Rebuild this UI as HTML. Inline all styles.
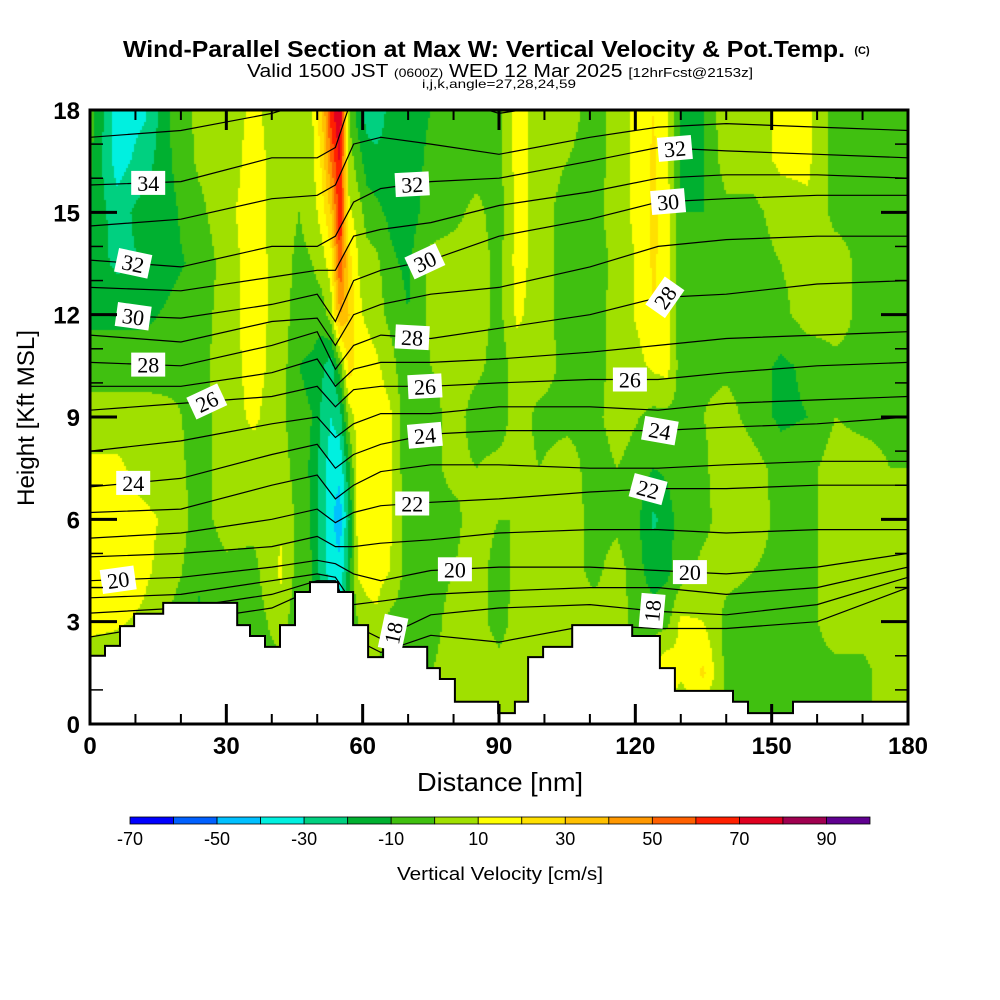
<!DOCTYPE html>
<html><head><meta charset="utf-8">
<style>
html,body{margin:0;padding:0;background:#fff;}
#wrap{position:relative;width:1000px;height:1000px;overflow:hidden;font-family:"Liberation Sans",sans-serif;}
#heat{position:absolute;left:0;top:0;}
#ov{position:absolute;left:0;top:0;}
</style></head>
<body>
<div id="wrap">
<canvas id="heat" width="1000" height="1000"></canvas>
<svg id="ov" width="1000" height="1000" xmlns="http://www.w3.org/2000/svg">
<text x="484" y="57" text-anchor="middle" font-family="Liberation Sans" font-weight="bold" font-size="23" textLength="722" lengthAdjust="spacingAndGlyphs">Wind-Parallel Section at Max W: Vertical Velocity &amp; Pot.Temp.</text>
<text x="862" y="54" text-anchor="middle" font-family="Liberation Sans" font-weight="bold" font-size="11">(C)</text>
<text x="500" y="77" text-anchor="middle" font-family="Liberation Sans" font-size="18" textLength="506" lengthAdjust="spacingAndGlyphs">Valid 1500 JST <tspan font-size="12">(0600Z)</tspan> WED 12 Mar 2025 <tspan font-size="13">[12hrFcst@2153z]</tspan></text>
<text x="499" y="88" text-anchor="middle" font-family="Liberation Sans" font-size="12" textLength="154" lengthAdjust="spacingAndGlyphs">i,j,k,angle=27,28,24,59</text>
<g id="contours"></g>
<g id="terrain"></g>
<g id="labels"></g>
<g id="axes"></g>
<text x="500" y="791" text-anchor="middle" font-family="Liberation Sans" font-size="26" textLength="166" lengthAdjust="spacingAndGlyphs">Distance [nm]</text>
<text transform="translate(34,418) rotate(-90)" text-anchor="middle" font-family="Liberation Sans" font-size="24" textLength="176" lengthAdjust="spacingAndGlyphs">Height [Kft MSL]</text>
<g id="cbar"></g>
<text x="500" y="880" text-anchor="middle" font-family="Liberation Sans" font-size="18" textLength="206" lengthAdjust="spacingAndGlyphs">Vertical Velocity [cm/s]</text>
</svg>
</div>
<script>
// ---------- data ----------
const gridX = [0,6,12,18,24,30,36,42,46,49,51,53,55,57,59,61,63,66,70,75,80,85,90,94,99,105,111,116,121,124,127,130,135,140,146,152,158,164,170,176,180];
const gridLevelStep = 1.5; // kft between rows, rows 0..18
const wColumns = [
[5,5,12,12,12,12,5,-5,-12,-15,-12,-8,-5],
[5,5,11,20,14,12,5,-5,-12,-22,-25,-35,-35],
[5,5,8,12,12,6,5,-5,-12,-20,-15,-25,-32],
[5,0,-3,5,8,5,3,-5,-8,-12,-12,-10,-8],
[0,-3,-12,-8,-5,-5,-5,-3,-5,-8,-3,2,3],
[0,-3,-5,-3,5,5,5,5,5,5,8,5,5],
[0,-5,-5,-3,3,5,12,14,15,15,14,14,12],
[0,-3,5,12,8,5,3,5,5,5,5,5,5],
[0,-3,-8,-5,-3,-5,-8,-10,-5,-3,0,3,5],
[0,-5,-8,-10,-12,-12,-10,-12,-5,0,5,8,10],
[0,0,-15,-25,-25,-25,-22,-18,-5,5,15,22,28],
[0,0,-25,-35,-38,-35,-30,-25,5,15,30,50,65],
[0,0,-30,-38,-45,-38,-25,-5,40,60,70,72,82],
[0,0,-10,-15,-20,-12,5,25,30,25,12,5,0],
[0,0,0,12,15,15,15,15,12,10,5,-5,-15],
[0,0,5,15,15,15,15,15,8,5,-5,-15,-25],
[0,-3,8,15,12,12,15,12,5,3,-8,-15,-30],
[0,-3,-3,10,12,12,12,5,-3,-8,-12,-15,-15],
[0,-3,-5,-5,-5,-8,-8,-10,-10,-12,-15,-20,-20],
[0,0,-5,-5,-3,-3,-5,0,3,3,-5,-5,-10],
[3,5,5,0,-3,3,5,5,5,5,-3,-5,-5],
[5,5,3,5,5,0,-5,3,5,5,3,-5,-8],
[5,3,-3,-5,0,3,-5,-5,-3,-3,-5,-3,-3],
[0,3,3,3,0,3,5,5,12,14,14,14,14],
[0,3,3,5,5,0,-3,5,5,5,5,5,5],
[0,5,5,5,5,5,-3,-3,-5,-5,-5,0,5],
[0,5,5,-3,-3,-5,-3,-5,-5,-5,-3,-5,-5],
[0,3,5,5,-3,0,5,5,5,3,5,5,5],
[0,5,-5,-8,-10,-5,0,8,12,12,14,14,14],
[0,12,-5,-15,-22,-10,-3,12,20,22,22,22,20],
[0,20,-3,-12,-15,-8,-3,14,14,14,15,12,12],
[0,12,12,-5,-5,-3,-3,-5,-8,-10,-10,-12,-10],
[0,22,10,3,-3,-3,0,-3,-8,-10,-10,-10,-10],
[0,-3,-3,3,5,10,5,-3,-5,-5,-3,5,8],
[0,-5,-5,0,5,5,-5,-5,-5,-5,-3,5,5],
[0,-5,-5,-3,-3,-5,-12,-12,-3,0,5,12,12],
[0,-3,-3,-3,-3,-3,-10,-8,5,5,8,12,12],
[0,-3,5,5,5,5,0,-3,5,5,-3,-5,-5],
[0,-3,5,5,5,5,-3,-3,-3,-3,-3,-5,-5],
[0,5,5,5,5,0,-3,-3,-3,-3,-3,-5,-5],
[0,5,5,5,5,0,-3,-3,-3,-3,-3,-5,-5]
];
const colorBins = ["#0000ff","#0060ff","#00c0ff","#00f0e0","#00d080","#00b030","#40c010","#a0e000","#ffff00","#ffe000","#ffc000","#ff9800","#ff6000","#ff2000","#e00020","#a00050","#600090"];
const binMin = -70, binStep = 10;
const cbarTicks = [-70,-50,-30,-10,10,30,50,70,90];

const thetaX = [0,20,40,50,54,58,64,75,90,110,125,140,160,180];
const thetaLevels = [35,34,33,32,31,30,29,28,27,26,25,24,23,22,21,20,19,18,17];
const thetaHeights = [
[17.2,17.4,17.9,18.3,18.6,19.5,19.5,19.5,19.5,19.5,19.5,19.5,19.5,19.5],
[15.8,15.9,16.6,16.6,16.9,18.5,18.6,18.5,17.9,18.3,18.4,18.3,18.1,18.0],
[14.6,14.8,15.4,15.5,15.8,17.0,17.2,17.0,16.7,17.2,17.5,17.6,17.5,17.4],
[13.6,13.4,14.0,14.0,14.3,15.3,15.7,15.9,16.0,16.5,16.9,16.8,16.7,16.6],
[12.8,12.7,13.1,13.3,13.3,14.3,14.5,14.7,15.2,15.6,16.0,16.1,16.1,16.0],
[12.0,11.9,12.3,12.6,11.8,13.0,13.3,13.6,14.3,14.8,15.3,15.4,15.5,15.5],
[11.4,11.2,11.8,11.9,11.1,12.0,12.3,12.6,12.8,13.4,14.0,14.2,14.3,14.3],
[10.6,10.5,11.1,11.5,10.4,11.1,11.4,11.3,11.6,12.0,12.5,12.6,12.9,13.0],
[9.9,9.9,10.3,10.7,9.9,10.4,10.6,10.6,10.7,10.9,11.1,11.3,11.4,11.5],
[9.2,9.4,9.6,9.9,9.3,9.8,9.9,9.9,10.0,10.1,10.1,10.3,10.5,10.6],
[8.0,8.3,8.8,9.0,8.4,8.8,9.1,9.1,9.3,9.3,9.2,9.4,9.5,9.6],
[6.95,7.2,7.9,8.2,7.5,7.9,8.2,8.5,8.6,8.6,8.6,8.7,8.8,9.0],
[6.2,6.3,7.0,7.3,6.6,7.0,7.4,7.6,7.6,7.5,7.5,7.6,7.7,7.7],
[5.45,5.6,6.0,6.3,5.9,6.2,6.4,6.5,6.6,6.8,6.9,6.9,7.0,7.0],
[4.9,5.0,5.2,5.5,5.2,5.2,5.3,5.4,5.6,5.7,5.7,5.6,5.7,5.7],
[4.2,4.3,4.6,4.8,4.7,4.4,4.2,4.5,4.6,4.6,4.5,4.4,4.6,5.0],
[3.7,3.8,4.2,4.4,4.3,3.5,3.6,3.8,3.9,4.0,4.0,3.8,4.0,4.6],
[3.25,3.4,3.8,4.2,4.2,2.9,2.5,3.2,3.4,3.5,3.3,3.2,3.5,4.3],
[2.55,3.0,3.4,4.0,4.1,2.5,2.1,2.6,2.4,2.9,2.8,2.8,3.0,4.0]
];
const labelTheta = [34,32,30,28,26,24,20,32,30,28,26,24,22,20,18,32,30,28,26,24,22,20,18];
const labelX = [12.8,9.5,9.5,12.8,25.7,9.5,6.2,70.9,73.7,70.9,73.7,73.7,70.9,80.3,66.7,128.7,127.2,126.5,118.8,125.4,122.8,132,123.7];
const labelAngle = [0,12,8,0,-25,0,-8,-3,-25,3,-3,-5,0,0,-78,-5,-5,-55,0,10,15,0,-85];

const terrainX = [0,3.3,6.6,9.7,16.1,32.4,35.2,38.5,41.8,45.1,48.4,54.6,57.9,61.2,64.5,74.2,77.0,80.3,89.8,93.5,96.4,99.7,106.1,119.3,125.4,128.7,141.5,144.8,154.7,180];
const terrainH = [2.0,2.29,2.87,3.23,3.55,2.9,2.58,2.26,2.9,3.87,4.16,3.87,2.9,1.96,2.26,1.64,1.32,0.65,0.32,0.65,1.96,2.26,2.9,2.58,1.64,0.97,0.65,0.32,0.65];

const xTicks = [0,30,60,90,120,150,180];
const yTicks = [0,3,6,9,12,15,18];

// ---------- scales ----------
const PL=90, PR=908, PT=110, PB=724, XMAX=180, YMAX=18;
const X = nm => PL + nm*(PR-PL)/XMAX;
const Y = k => PB - k*(PB-PT)/YMAX;
const NS="http://www.w3.org/2000/svg";
function mk(tag, attrs, parent){const e=document.createElementNS(NS,tag);for(const k in attrs)e.setAttribute(k,attrs[k]);parent.appendChild(e);return e;}
function colorOf(v){let i=Math.floor((v-binMin)/binStep);if(i<0)i=0;if(i>colorBins.length-1)i=colorBins.length-1;return colorBins[i];}
function interpW(nm,k){
  let i=0;while(i<gridX.length-2 && gridX[i+1]<nm)i++;
  const tx=Math.min(1,Math.max(0,(nm-gridX[i])/(gridX[i+1]-gridX[i])));
  let fj=k/gridLevelStep;let j=Math.floor(fj);if(j>=wColumns[0].length-1)j=wColumns[0].length-2;if(j<0)j=0;
  const ty=Math.min(1,Math.max(0,fj-j));
  const a=wColumns[i][j],b=wColumns[i+1][j],c=wColumns[i][j+1],d=wColumns[i+1][j+1];
  return (a*(1-tx)+b*tx)*(1-ty)+(c*(1-tx)+d*tx)*ty;
}
function interpLine(xs,ys,x){
  if(x<=xs[0])return ys[0];
  for(let i=0;i<xs.length-1;i++){if(x<=xs[i+1]){const t=(x-xs[i])/(xs[i+1]-xs[i]);return ys[i]*(1-t)+ys[i+1]*t;}}
  return ys[ys.length-1];
}

// ---------- heatmap ----------
const ctx=document.getElementById('heat').getContext('2d');
const step=2;
for(let px=PL;px<PR;px+=step){
  for(let py=PT;py<PB;py+=step){
    const nm=(px+step/2-PL)*XMAX/(PR-PL);
    const k=(PB-(py+step/2))*YMAX/(PB-PT);
    ctx.fillStyle=colorOf(interpW(nm,k));
    ctx.fillRect(px,py,step,step);
  }
}

// ---------- contours ----------
const svg=document.getElementById('ov');
const defs=mk('defs',{},svg);
const cp=mk('clipPath',{id:'plotclip'},defs);
mk('rect',{x:PL,y:PT,width:PR-PL,height:PB-PT},cp);
const cg=document.getElementById('contours');
cg.setAttribute('clip-path','url(#plotclip)');
thetaLevels.forEach((th,li)=>{
  const pts=thetaX.map((x,i)=>X(x).toFixed(1)+','+Y(thetaHeights[li][i]).toFixed(1)).join(' ');
  const pl=mk('polyline',{points:pts,fill:'none',stroke:'#000','stroke-width':1.2},cg);
  
  
});

// ---------- terrain ----------
const tg=document.getElementById('terrain');
let d='M'+X(0)+','+Y(0);
for(let i=0;i<terrainH.length;i++){d+=' L'+X(terrainX[i]).toFixed(1)+','+Y(terrainH[i]).toFixed(1)+' L'+X(terrainX[i+1]).toFixed(1)+','+Y(terrainH[i]).toFixed(1);}
d+=' L'+X(XMAX)+','+Y(0)+' Z';
const tp=mk('path',{d:d,fill:'#fff',stroke:'#000','stroke-width':2},tg);



// ---------- contour labels ----------
const lg=document.getElementById('labels');
labelTheta.forEach((th,i)=>{
  const li=thetaLevels.indexOf(th);
  const cx=X(labelX[i]);const cy=Y(interpLine(thetaX,thetaHeights[li],labelX[i]));
  const g=mk('g',{transform:`translate(${cx.toFixed(1)},${cy.toFixed(1)}) rotate(${labelAngle[i]})`},lg);
  
  
  mk('rect',{x:-17,y:-12,width:34,height:24,fill:'#fff'},g);
  const t=mk('text',{x:0,y:8,'text-anchor':'middle','font-family':'Liberation Serif','font-size':22},g);
  t.textContent=th;
});

// ---------- axes ----------
const ag=document.getElementById('axes');
const frame=mk('rect',{x:PL,y:PT,width:PR-PL,height:PB-PT,fill:'none',stroke:'#000','stroke-width':3},ag);


for(let v=0;v<=XMAX;v+=10){
  const major=v%30===0;const L=major?20:10;
  mk('line',{x1:X(v),y1:PT,x2:X(v),y2:PT+L,stroke:'#000','stroke-width':major?3:2},ag);
  mk('line',{x1:X(v),y1:PB,x2:X(v),y2:PB-L,stroke:'#000','stroke-width':major?3:2},ag);
}
for(let v=0;v<=YMAX;v+=1){
  const major=v%3===0;const L=major?27:13;
  mk('line',{x1:PL,y1:Y(v),x2:PL+L,y2:Y(v),stroke:'#000','stroke-width':major?3:1.5},ag);
  mk('line',{x1:PR,y1:Y(v),x2:PR-L,y2:Y(v),stroke:'#000','stroke-width':major?3:1.5},ag);
}
xTicks.forEach(v=>{
  const t=mk('text',{x:X(v),y:754,'text-anchor':'middle','font-family':'Liberation Sans','font-weight':'bold','font-size':24},ag);
  t.textContent=v;
  
  
});
yTicks.forEach(v=>{
  const t=mk('text',{x:80,y:Y(v)+9,'text-anchor':'end','font-family':'Liberation Sans','font-weight':'bold','font-size':24},ag);
  t.textContent=v;
  
  
});

// ---------- colorbar ----------
const cb=document.getElementById('cbar');
const CBL=130,CBR=870,CBT=817,CBH=7;
const bw=(CBR-CBL)/colorBins.length;
colorBins.forEach((c,i)=>{
  const r=mk('rect',{x:CBL+i*bw,y:CBT,width:bw,height:CBH,fill:c,stroke:'#000','stroke-width':0.8},cb);
  
  
});
cbarTicks.forEach(v=>{
  const t=mk('text',{x:CBL+(v-binMin)/binStep*bw,y:845,'text-anchor':'middle','font-family':'Liberation Sans','font-size':18},cb);
  t.textContent=v;
  
  
});
</script>
</body></html>
